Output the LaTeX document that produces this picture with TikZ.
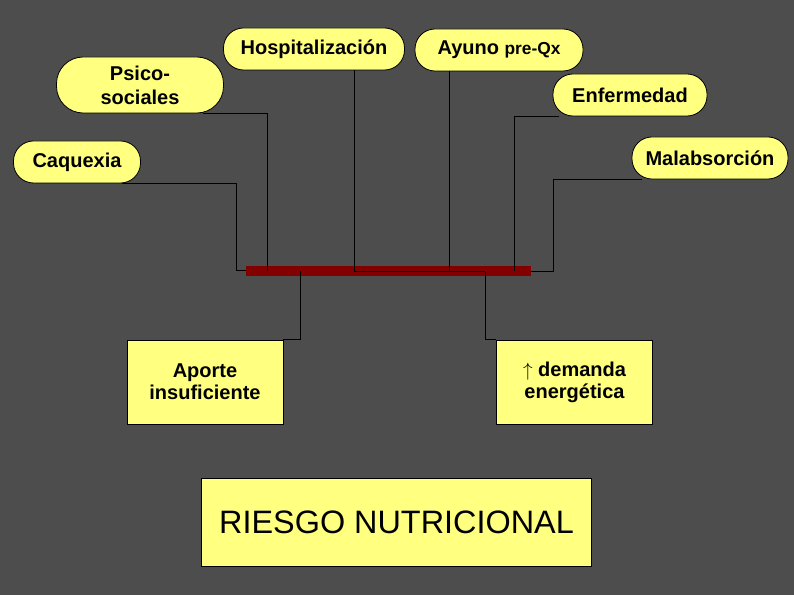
\documentclass[tikz,border=0pt]{standalone}
\usepackage{fontspec}
\setmainfont{Liberation Sans}
\usetikzlibrary{positioning,calc}
\definecolor{slidegray}{RGB}{77,77,77}
\definecolor{pillyellow}{RGB}{255,255,128}
\definecolor{barred}{RGB}{130,0,0}

\begin{document}
\begin{tikzpicture}[x=0.75pt, y=-0.75pt,
  pillbox/.style={
    draw=black, fill=pillyellow, rounded corners=15pt,
    text centered, minimum height=31.5pt, inner sep=2pt,
    font=\fontsize{15}{18}\selectfont\bfseries, line width=0.6pt
  },
  causebox/.style={
    draw=black, fill=pillyellow, align=center,
    minimum width=117pt, minimum height=63pt, inner sep=2pt,
    font=\fontsize{15}{16.5}\selectfont\bfseries, line width=0.6pt
  },
  riskbox/.style={
    draw=black, fill=pillyellow, minimum width=293pt, minimum height=66pt,
    font=\fontsize{24.3}{28}\selectfont, line width=0.6pt
  },
  conn/.style={black, line width=0.75pt},
]

%% Background (slide)
\fill[slidegray] (0,0) rectangle (794,595);
\useasboundingbox (0,0) rectangle (794,595);

%% Upper factors (rounded)
\node[pillbox, minimum width=135.75pt] (hosp)   at (314,49)  {Hospitalización};
\node[pillbox, minimum width=126pt]    (ayuno)  at (499,50)  {Ayuno {\fontsize{13}{14}\selectfont pre-Qx}};
\node[pillbox, minimum width=125.25pt, minimum height=42pt, rounded corners=20pt, align=center]
                                       (psico)  at (140,85)  {Psico-\\sociales};
\node[pillbox, minimum width=115.5pt]  (enf)    at (630,95)  {Enfermedad};
\node[pillbox, minimum width=95.25pt]  (caq)    at (77,162)  {Caquexia};
\node[pillbox, minimum width=117pt]    (malabs) at (710,158) {Malabsorción};

%% Collecting bar
\node[fill=barred, minimum width=213.75pt, minimum height=7.5pt, inner sep=0pt] (bar) at (388.5,271) {};

%% Lower boxes
\node[causebox] (aporte)  at (205,382)   {Aporte\\insuficiente};
\node[causebox] (demanda) at (574.5,382) {{\fontseries{m}\selectfont$\uparrow$} demanda\\energética};
\node[riskbox]  (riesgo)  at (396.5,522) {RIESGO NUTRICIONAL};

%% Junctions on the bar
\coordinate (aj) at (300,271);
\coordinate (dj) at (485,272);

%% Connections: left side
\draw[conn] ([xshift=-14pt]caq.south east) -| ([xshift=-6.75pt]bar.west) -- (bar.west);
\draw[conn] ([xshift=-16pt]psico.south east) -| ([xshift=16.5pt]bar.west);

%% Connections: top
\draw[conn] ([xshift=30pt]hosp.south) |- (dj);
\draw[conn] ([xshift=-37.5pt]ayuno.south) -- ([xshift=-37.5pt]ayuno.south |- bar.center);

%% Connections: right side
\draw[conn] ([xshift=4.5pt]enf.south west) -| ([xshift=-12.75pt]bar.east);
\draw[conn] ([xshift=8pt]malabs.south west) -| ([xshift=16.5pt,yshift=-0.75pt]bar.east) -- ([yshift=-0.75pt]bar.east);

%% Connections: down to the lower boxes
\draw[conn] (aj) |- (aporte.north east);
\draw[conn] (dj) |- (demanda.north west);

\end{tikzpicture}
\end{document}
